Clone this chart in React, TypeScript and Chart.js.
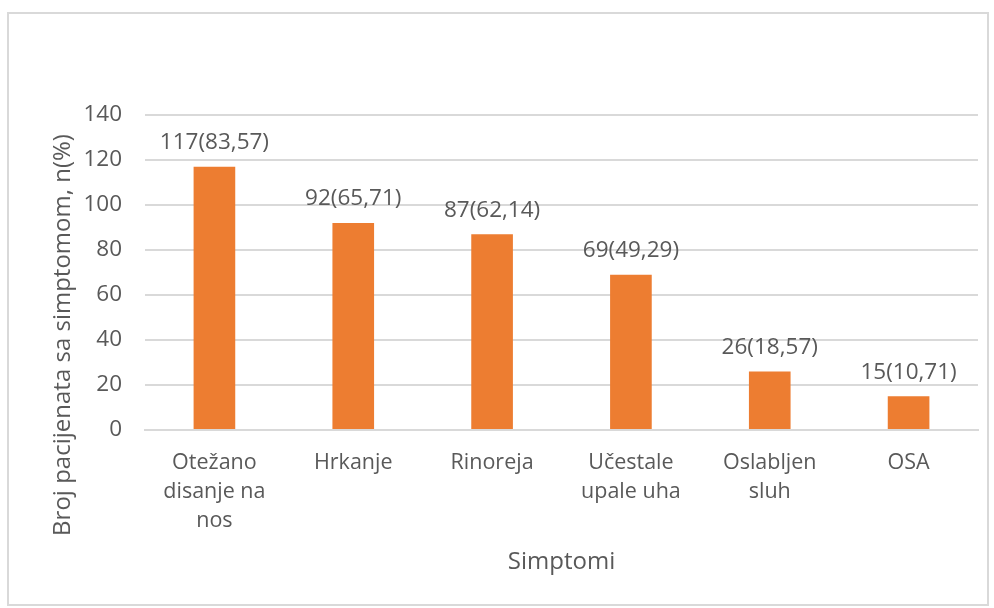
import React, { useEffect, useRef } from "react";
import { Chart, registerables } from "chart.js";

Chart.register(...registerables);

const categories: (string | string[])[] = [
  ["Otežano", "disanje na", "nos"],
  "Hrkanje",
  "Rinoreja",
  ["Učestale", "upale uha"],
  ["Oslabljen", "sluh"],
  "OSA",
];
const counts: number[] = [117, 92, 87, 69, 26, 15];
const percents: string[] = ["83,57", "65,71", "62,14", "49,29", "18,57", "10,71"];
const yTicks: number[] = [0, 20, 40, 60, 80, 100, 120, 140];
const xTitle = "Simptomi";
const yTitle = "Broj pacijenata sa simptomom, n(%)";

const FONT = "'Open Sans', sans-serif";
const TEXT = "#595959";
const BAR = "#ED7D31";
const GRID = "#D9D9D9";

const dataLabelPlugin = {
  id: "dataLabels",
  afterDatasetsDraw(chart: any) {
    const ctx = chart.ctx;
    const meta = chart.getDatasetMeta(0);
    ctx.save();
    ctx.font = `22.5px ${FONT}`;
    ctx.fillStyle = TEXT;
    ctx.textAlign = "center";
    ctx.textBaseline = "middle";
    meta.data.forEach((bar: any, i: number) => {
      ctx.fillText(`${counts[i]}(${percents[i]})`, bar.x, bar.y - 24);
    });
    ctx.restore();
  },
};

const yTitlePlugin = {
  id: "yTitle",
  afterDraw(chart: any) {
    const ctx = chart.ctx;
    ctx.save();
    ctx.translate(63, 335);
    ctx.rotate(-Math.PI / 2);
    ctx.font = `24px ${FONT}`;
    ctx.fillStyle = TEXT;
    ctx.textAlign = "center";
    ctx.textBaseline = "middle";
    ctx.fillText(yTitle, 0, 0);
    ctx.restore();
  },
};

export default function App() {
  const ref = useRef<HTMLCanvasElement>(null);
  useEffect(() => {
    if (!ref.current) return;
    const chart = new Chart(ref.current, {
      type: "bar",
      data: {
        labels: categories,
        datasets: [
          {
            data: counts,
            backgroundColor: BAR,
            borderWidth: 0,
            barPercentage: 0.3,
            categoryPercentage: 1,
          },
        ],
      },
      options: {
        animation: false,
        responsive: false,
        devicePixelRatio: 1,
        layout: { padding: { left: 0, top: 115, right: 16, bottom: 0 } },
        plugins: { legend: { display: false }, tooltip: { enabled: false } },
        scales: {
          x: {
            grid: { display: false, drawTicks: false },
            border: { display: true, color: GRID, width: 2 },
            ticks: {
              color: TEXT,
              font: { family: FONT, size: 21.5, lineHeight: 1.36 },
              padding: 18,
              maxRotation: 0,
              autoSkip: false,
            },
            title: {
              display: true,
              text: xTitle,
              color: TEXT,
              font: { family: FONT, size: 24 },
              padding: { top: 0, bottom: 31 },
            },
            afterFit: (scale: any) => {
              scale.height = 178;
            },
          },
          y: {
            min: 0,
            max: 140,
            afterBuildTicks: (scale: any) => {
              scale.ticks = yTicks.map((v) => ({ value: v }));
            },
            grid: { color: GRID, lineWidth: 2, drawTicks: false },
            border: { display: false },
            ticks: {
              color: TEXT,
              font: { family: FONT, size: 22.5 },
              padding: 23,
            },
            afterFit: (scale: any) => {
              scale.width = 145;
            },
          },
        },
      },
      plugins: [dataLabelPlugin, yTitlePlugin],
    });
    return () => chart.destroy();
  }, []);

  return (
    <div
      style={{
        position: "absolute",
        left: 0,
        top: 0,
        width: 994,
        height: 608,
        background: "#fff",
      }}
    >
      <div
        style={{
          position: "absolute",
          left: 7,
          top: 12,
          width: 982,
          height: 594,
          border: "2px solid #D9D9D9",
          boxSizing: "border-box",
        }}
      />
      <canvas
        ref={ref}
        width={994}
        height={608}
        style={{ position: "absolute", left: 0, top: 0, width: 994, height: 608 }}
      />
    </div>
  );
}
